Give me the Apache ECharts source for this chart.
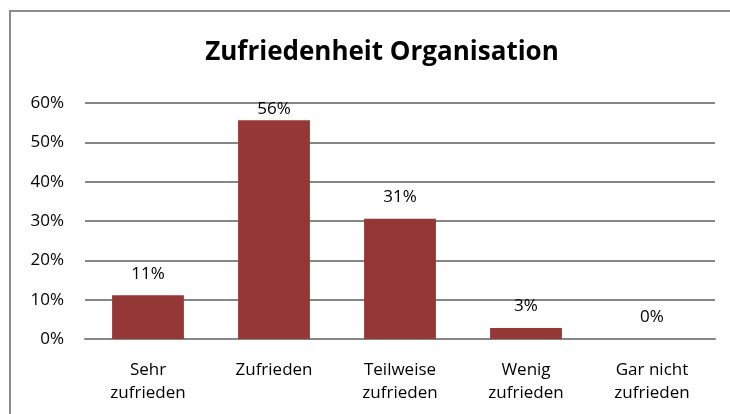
<!DOCTYPE html>
<html>
<head>
<meta charset="utf-8">
<title>Zufriedenheit Organisation</title>
<script src="https://cdn.jsdelivr.net/npm/echarts@6/dist/echarts.min.js"></script>
<style>
  html, body { margin: 0; padding: 0; background: #fff; }
  #chart { width: 730px; height: 414px; }
</style>
</head>
<body>
<div id="chart"></div>
<script>
// Zufriedenheit Organisation - Balkendiagramm
var categories = ['Sehr\nzufrieden', 'Zufrieden', 'Teilweise\nzufrieden', 'Wenig\nzufrieden', 'Gar nicht\nzufrieden'];
var values = [11.1, 55.6, 30.6, 2.8, 0];   // Prozent
var yTicks = [0, 10, 20, 30, 40, 50, 60];

var font = '"Open Sans", Lato, sans-serif';

var myChart = echarts.init(document.getElementById('chart'));

// Beschriftung wie in Excel: oben an der Plotgrenze rückt das Label näher an den Balken
var barData = values.map(function (v) {
    if (v > 52) {
        return { value: v, label: { distance: 3 } };
    }
    return v;
});

var option = {
    backgroundColor: '#fff',
    animation: false,
    title: {
        text: 'Zufriedenheit Organisation',
        left: 377,
        textAlign: 'center',
        top: 35,
        textStyle: {
            fontFamily: font,
            fontWeight: 'bold',
            fontSize: 26,
            color: '#000'
        }
    },
    graphic: [{
        type: 'rect',
        shape: { x: 10, y: 11, width: 740, height: 420 },
        style: { fill: 'none', stroke: '#8c8c8c', lineWidth: 2 },
        silent: true
    }],
    grid: {
        left: 85,
        right: 15,
        top: 103,
        bottom: 75
    },
    xAxis: {
        type: 'category',
        data: categories,
        axisTick: { show: false },
        axisLine: { lineStyle: { color: '#868686', width: 2 } },
        axisLabel: {
            fontFamily: font,
            fontSize: 17,
            color: '#000',
            lineHeight: 23,
            margin: 20,
            interval: 0
        }
    },
    yAxis: {
        type: 'value',
        min: yTicks[0],
        max: yTicks[yTicks.length - 1],
        interval: 10,
        axisLine: { show: false },
        axisTick: { show: false },
        splitLine: { lineStyle: { color: '#868686', width: 2 } },
        axisLabel: {
            fontFamily: font,
            fontSize: 17,
            color: '#000',
            margin: 21,
            formatter: '{value}%'
        }
    },
    series: [{
        type: 'bar',
        data: barData,
        barWidth: '57%',
        itemStyle: { color: '#953735' },
        label: {
            show: true,
            position: 'top',
            distance: 13,
            fontFamily: font,
            fontSize: 17,
            color: '#000',
            formatter: function (p) { return Math.round(p.value) + '%'; }
        }
    }]
};

myChart.setOption(option);
</script>
</body>
</html>
